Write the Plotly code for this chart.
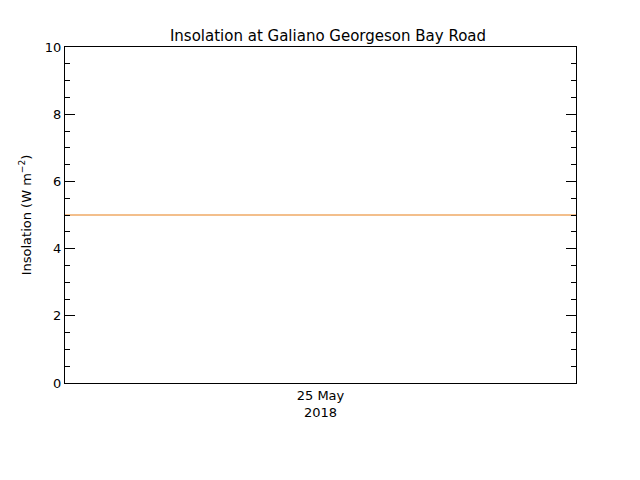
import plotly.graph_objects as go

# data
times = ["2018-05-24 00:00", "2018-05-26 00:00"]
insolation = [5, 5]
x_tick_vals = ["2018-05-25 00:00"]
x_tick_text = ["25 May<br>2018"]
y_tick_vals = [0, 2, 4, 6, 8, 10]

font = "DejaVu Sans"

fig = go.Figure()
fig.add_trace(go.Scatter(
    x=times, y=insolation, mode="lines",
    line=dict(color="#e8801a", width=1.2),
    showlegend=False,
))

# the page puts the figure 8px in from the corner, so the margins allow for it
fig.update_layout(
    width=640, height=480,
    margin=dict(l=57, r=72, t=39, b=105, autoexpand=False),
    paper_bgcolor="white", plot_bgcolor="white",
    font=dict(family=font, size=12, color="black"),
    title=dict(text="Insolation at Galiano Georgeson Bay Road",
               x=0.5, xanchor="center", y=0.943, yanchor="middle",
               font=dict(size=15)),
)
fig.update_xaxes(
    range=[times[0], times[-1]],
    showline=True, linecolor="black", linewidth=1, mirror=True,
    showgrid=False, zeroline=False, ticks="",
    tickvals=x_tick_vals, ticktext=x_tick_text,
    tickfont=dict(size=13),
)
fig.update_yaxes(
    range=[0, 10],
    title=dict(text="Insolation (W m<sup>−2</sup>)", font=dict(size=13), standoff=10),
    showline=True, linecolor="black", linewidth=1, mirror="ticks",
    showgrid=False, zeroline=False,
    ticks="inside", ticklen=10, tickcolor="black",
    tickvals=y_tick_vals, tickfont=dict(size=13),
    minor=dict(ticks="inside", ticklen=5, dtick=0.5, tickcolor="black", showgrid=False),
)

fig.write_html("out.html")
